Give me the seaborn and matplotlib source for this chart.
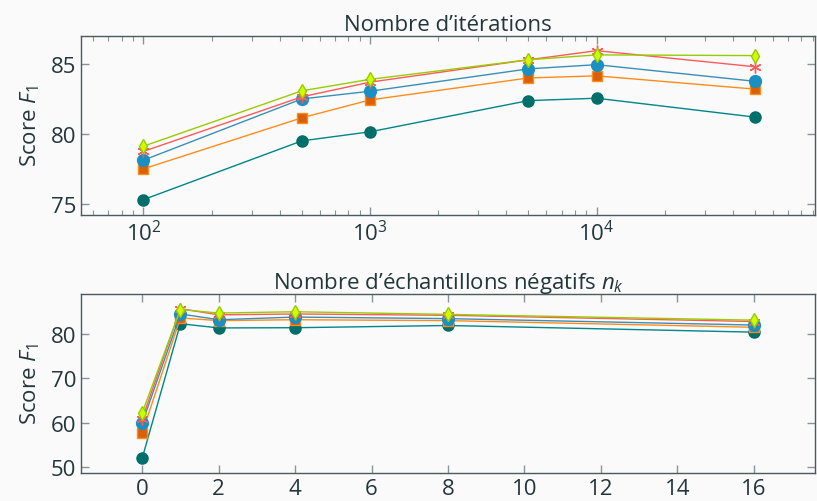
import matplotlib
matplotlib.use("Agg")
import matplotlib.pyplot as plt
from matplotlib.ticker import LogLocator, NullFormatter
import seaborn as sns
import pandas as pd

# --- data ---
iterations = [100, 500, 1000, 5000, 10000, 50000]
iter_teal = [75.3, 79.5, 80.15, 82.38, 82.55, 81.2]
iter_orange = [77.5, 81.15, 82.43, 84.0, 84.15, 83.2]
iter_blue = [78.12, 82.5, 83.05, 84.65, 84.95, 83.76]
iter_red = [78.75, 82.65, 83.7, 85.3, 85.95, 84.8]
iter_green = [79.12, 83.08, 83.9, 85.3, 85.65, 85.6]

negatives = [0, 1, 2, 4, 8, 16]
neg_teal = [51.96, 82.3, 81.35, 81.4, 81.9, 80.4]
neg_orange = [57.67, 83.6, 83.0, 83.2, 83.0, 81.5]
neg_blue = [59.85, 84.5, 83.2, 83.8, 83.45, 82.0]
neg_red = [60.8, 85.7, 84.3, 84.5, 84.2, 82.8]
neg_green = [62.18, 85.5, 84.7, 85.0, 84.4, 83.1]

series_names = ["teal", "orange", "blue", "red", "green"]

styles = {
    "teal": dict(color="#00858a", marker="o", mfc="#006e6a", mec="#006e6a", ms=8),
    "orange": dict(color="#ff8c1a", marker="s", mfc="#d9600a", mec="#ff8c1a", ms=7.5),
    "blue": dict(color="#3a8fb7", marker="o", mfc="#1a8fc2", mec="#1a8fc2", ms=8.5),
    "red": dict(color="#ff5a5a", marker=(6, 2, 0), mfc="#ff5a5a", mec="#ff5a5a", ms=8.5),
    "green": dict(color="#99cc00", marker="d", mfc="#ccff00", mec="#99cc00", ms=7.5),
}

sns.set_theme(style="ticks")
text_col = "#23373b"
plt.rcParams["font.family"] = ["Open Sans", "DejaVu Sans"]
plt.rcParams["mathtext.fontset"] = "custom"
plt.rcParams["mathtext.rm"] = "Open Sans"
plt.rcParams["mathtext.it"] = "Open Sans:italic"
plt.rcParams["text.color"] = text_col
plt.rcParams["axes.labelcolor"] = text_col
plt.rcParams["xtick.color"] = "#8a9496"
plt.rcParams["ytick.color"] = "#8a9496"
plt.rcParams["xtick.labelcolor"] = text_col
plt.rcParams["ytick.labelcolor"] = text_col

fs = 16
bg = "#fafafa"
fig = plt.figure(figsize=(8.17, 5.02), dpi=100, facecolor=bg)
ax1 = fig.add_axes([81 / 817, 1 - 216 / 502, 734 / 817, 179 / 502])
ax2 = fig.add_axes([81 / 817, 1 - 474 / 502, 734 / 817, 179 / 502])

top = pd.DataFrame({"x": iterations, "teal": iter_teal, "orange": iter_orange,
                    "blue": iter_blue, "red": iter_red, "green": iter_green})
bottom = pd.DataFrame({"x": negatives, "teal": neg_teal, "orange": neg_orange,
                       "blue": neg_blue, "red": neg_red, "green": neg_green})

for ax, df in [(ax1, top), (ax2, bottom)]:
    ax.set_facecolor(bg)
    for name in series_names:
        st = styles[name]
        sns.lineplot(data=df, x="x", y=name, ax=ax, color=st["color"], lw=1.0,
                     marker=st["marker"], markersize=st["ms"],
                     markerfacecolor=st["mfc"], markeredgecolor=st["mec"],
                     markeredgewidth=1.0)
    for sp in ax.spines.values():
        sp.set_color("#4a5a5e")
        sp.set_linewidth(1.0)
    ax.tick_params(direction="in", top=True, right=True, labelsize=fs,
                   length=6, width=1.0)
    ax.set_ylabel(r"Score $F_1$", fontsize=fs, labelpad=6)
    ax.set_xlabel("")

ax1.set_xscale("log")
ax1.set_xlim(53, 92000)
ax1.set_ylim(74.2, 87.0)
ax1.set_yticks([75, 80, 85])
ax1.xaxis.set_major_locator(LogLocator(base=10, numticks=10))
ax1.xaxis.set_minor_locator(LogLocator(base=10, subs=range(2, 10), numticks=20))
ax1.xaxis.set_minor_formatter(NullFormatter())
ax1.tick_params(which="minor", direction="in", top=True, length=3.5, width=0.8)
ax1.set_title("Nombre d\u2019itérations", fontsize=fs, pad=4)

ax2.set_xlim(-1.6, 17.6)
ax2.set_ylim(48.65, 89.0)
ax2.set_xticks([0, 2, 4, 6, 8, 10, 12, 14, 16])
ax2.set_yticks([50, 60, 70, 80])
ax2.set_title("Nombre d\u2019échantillons négatifs $n_k$", fontsize=fs, pad=4)

fig.savefig("out.png", dpi=100, facecolor=bg)
